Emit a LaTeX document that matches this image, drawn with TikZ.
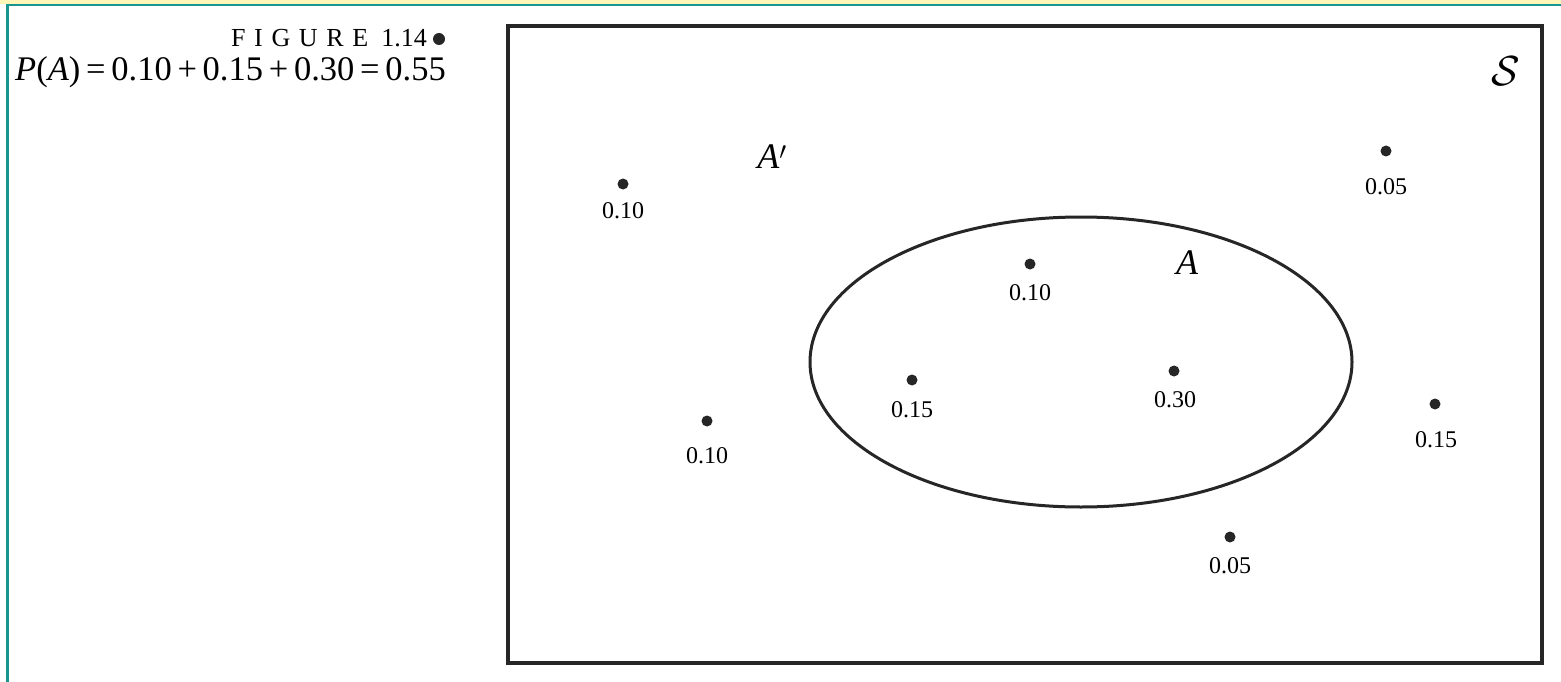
\documentclass[tikz,border=0pt]{standalone}
\usepackage{fontspec}
\setmainfont{Liberation Serif}
\begin{document}
\begin{tikzpicture}[x=1pt,y=-1pt,
  dot/.style={circle,fill=black!85,inner sep=0pt,minimum size=11pt},
  lbl/.style={font=\fontsize{24}{28}\selectfont,inner sep=0pt,anchor=center},
  setlbl/.style={font=\fontsize{36}{40}\selectfont\itshape,inner sep=0pt,anchor=center}]
\definecolor{teal1}{HTML}{16968E}
\definecolor{ylw}{HTML}{FFF6B8}
\useasboundingbox (0,0) rectangle (1561,682);
\fill[white] (0,0) rectangle (1561,682);
\fill[ylw] (0,0) rectangle (1561,4.5);
\fill[teal1] (6,4.5) rectangle (1561,6.5);
\fill[teal1] (6,4.5) rectangle (8.5,682);
% caption
\node[font=\fontsize{26}{30}\selectfont,inner sep=0pt,anchor=base east] (cap1) at (427,47) {F\,\,I\,\,G\,\,U\,\,R\,\,E\,\,\,1.14};
\node[circle,fill=black!85,inner sep=0pt,minimum size=12pt] (capdot) at (439,39) {};
\node[font=\fontsize{34.5}{39}\selectfont,inner sep=0pt,anchor=base east] (cap2) at (446,81) {\textit{P}(\textit{A})\,=\,0.10\,+\,0.15\,+\,0.30\,=\,0.55};
% sample space
\draw[line width=3.5pt,black!85] (508,26) rectangle (1542,663);
\node[inner sep=0pt,font=\fontsize{10}{12}\selectfont,scale=4.2] (S) at (1506,71) {$\mathcal{S}$};
\node[setlbl] (Ac) at (772,157) {A$'$};
\node[setlbl] (A) at (1187,263) {A};
\draw[line width=3pt,black!85] (1081,362) ellipse [x radius=271, y radius=145];
% points
\node[dot] (d1) at (623,184) {}; \node[lbl] (l1) at (623,211) {0.10};
\node[dot] (d2) at (1030,264) {}; \node[lbl] (l2) at (1030,293) {0.10};
\node[dot] (d3) at (912,380) {}; \node[lbl] (l3) at (912,410) {0.15};
\node[dot] (d4) at (1174,371) {}; \node[lbl] (l4) at (1175,400) {0.30};
\node[dot] (d5) at (707,421) {}; \node[lbl] (l5) at (707,456) {0.10};
\node[dot] (d6) at (1386,151) {}; \node[lbl] (l6) at (1386,187) {0.05};
\node[dot] (d7) at (1435,404) {}; \node[lbl] (l7) at (1436,440) {0.15};
\node[dot] (d8) at (1230,537) {}; \node[lbl] (l8) at (1230,566) {0.05};
\end{tikzpicture}
\end{document}
